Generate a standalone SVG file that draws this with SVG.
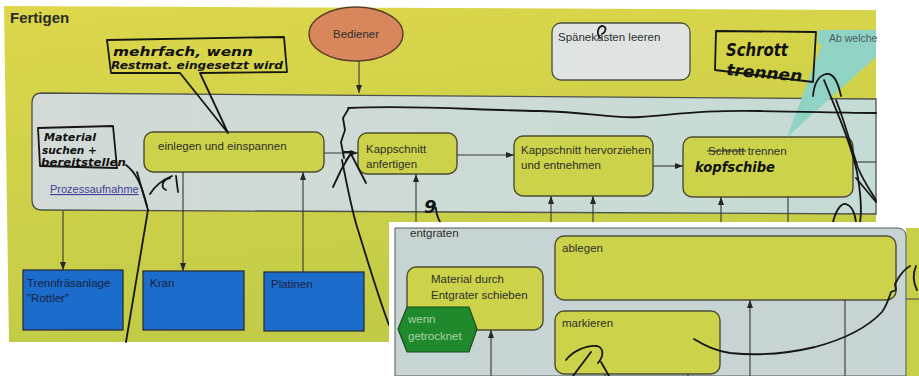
<svg xmlns="http://www.w3.org/2000/svg" width="919" height="376" viewBox="0 0 919 376">
<defs>
<linearGradient id="bgY" x1="0" y1="0" x2="0.25" y2="1">
<stop offset="0" stop-color="#ddd74b"/>
<stop offset="1" stop-color="#c1cb47"/>
</linearGradient>
<linearGradient id="laneG" x1="0" y1="0" x2="1" y2="0">
<stop offset="0" stop-color="#d3dad7"/>
<stop offset="1" stop-color="#c5dbd5"/>
</linearGradient>
<marker id="ah" viewBox="0 0 8 6" refX="8" refY="3" markerWidth="8" markerHeight="6" orient="auto" markerUnits="userSpaceOnUse">
<path d="M0,0 L8,3 L0,6 z" fill="#262624"/>
</marker>
<style>
.t{font-family:"Liberation Sans",Arial,sans-serif;font-size:11.5px;fill:#2f2f2a}
.tb{font-family:"Liberation Sans",Arial,sans-serif;font-size:11.5px;fill:#16233d}
.box{fill:#ccd249;stroke:#4d4c32;stroke-width:1.4}
.blue{fill:#1b6ccb;stroke:#2a2f3a;stroke-width:1.3}
.ln{stroke:#363632;stroke-width:1.1;fill:none}
.hw{fill:none;stroke:#161616;stroke-width:1.8;stroke-linecap:round;stroke-linejoin:round}
.hwt{font-family:"DejaVu Sans",sans-serif;font-style:italic;font-weight:600;fill:#111}
</style>
</defs>

<rect x="0" y="0" width="919" height="376" fill="#ffffff"/>

<g id="page">
<polygon points="4,6 876,10 876,342 9,342" fill="url(#bgY)"/>
<text x="10" y="23" font-family="Liberation Sans, Arial, sans-serif" font-size="15" font-weight="bold" fill="#2a2a26">Fertigen</text>
</g>

<g id="lane">
<path d="M42,93 L876,99 L876,214 L42,210 Q32,210 32,200 L32,103 Q32,93 42,93 Z" fill="url(#laneG)" stroke="#4e5248" stroke-width="1.3"/>
<text x="50" y="193" font-family="Liberation Sans, Arial, sans-serif" font-size="11" fill="#3b3f96" text-decoration="underline">Prozessaufnahme</text>
</g>

<g id="bediener">
<ellipse cx="356" cy="34" rx="47" ry="27" fill="#d8875c" stroke="#5b3b2a" stroke-width="1.3"/>
<text x="356" y="38" class="t" text-anchor="middle" font-size="11">Bediener</text>
</g>

<g id="spaenekasten">
<rect x="552" y="23" width="138" height="57" rx="9" fill="#dfe4e2" stroke="#4e4e40" stroke-width="1.3"/>
<text x="558" y="41" class="t" font-size="11">Spänekasten leeren</text>
</g>

<g id="einlegen">
<rect x="144" y="132" width="180" height="40" rx="9" class="box"/>
<text x="158" y="150" class="t">einlegen und einspannen</text>
</g>

<g id="kappschnitt">
<rect x="358" y="133" width="99" height="41" rx="9" class="box"/>
<text x="366" y="153" class="t">Kappschnitt</text>
<text x="366" y="168" class="t">anfertigen</text>
</g>

<g id="hervorziehen">
<rect x="514" y="136" width="139" height="60" rx="9" class="box"/>
<text x="521" y="154" class="t">Kappschnitt hervorziehen</text>
<text x="521" y="169" class="t">und entnehmen</text>
</g>

<g id="schrott">
<rect x="683" y="137" width="170" height="60" rx="9" class="box"/>
<text x="708" y="155" class="t">Schrott trennen</text>
<line x1="707" y1="151" x2="746" y2="151" stroke="#2f2f2a" stroke-width="1.2"/>
</g>

<g id="trennfraesanlage">
<rect x="23" y="270" width="100" height="60" class="blue"/>
<text x="27" y="287" class="tb">Trennfräsanlage</text>
<text x="27" y="302" class="tb">"Rottler"</text>
</g>

<g id="kran">
<rect x="143" y="271" width="101" height="59" class="blue"/>
<text x="150" y="287" class="tb">Kran</text>
</g>

<g id="platinen">
<rect x="264" y="272" width="100" height="59" class="blue"/>
<text x="271" y="288" class="tb">Platinen</text>
</g>

<g id="callout">
<polygon points="818,30 876,30 876,57 787,137 822,44 818,44" fill="#90d2c3"/>
<text x="829" y="42" font-family="Liberation Sans, Arial, sans-serif" font-size="10.5" fill="#4a5a66">Ab welche</text>
</g>

<g id="connectors">
<line x1="359" y1="61" x2="359" y2="93" class="ln" marker-end="url(#ah)"/>
<line x1="324" y1="153" x2="358" y2="153" class="ln" marker-end="url(#ah)"/>
<line x1="457" y1="155" x2="514" y2="155" class="ln" marker-end="url(#ah)"/>
<line x1="653" y1="166" x2="683" y2="166" class="ln" marker-end="url(#ah)"/>
<line x1="853" y1="162" x2="876" y2="162" class="ln"/>
<line x1="63" y1="211" x2="63" y2="270" class="ln" marker-end="url(#ah)"/>
<line x1="183" y1="172" x2="183" y2="271" class="ln" marker-end="url(#ah)"/>
<line x1="303" y1="272" x2="303" y2="172" class="ln" marker-end="url(#ah)"/>
<line x1="416" y1="222" x2="416" y2="174" class="ln" marker-end="url(#ah)"/>
<line x1="551" y1="222" x2="551" y2="196" class="ln" marker-end="url(#ah)"/>
<line x1="593" y1="222" x2="593" y2="196" class="ln" marker-end="url(#ah)"/>
<line x1="721" y1="222" x2="721" y2="197" class="ln" marker-end="url(#ah)"/>
<line x1="788" y1="197" x2="788" y2="222" class="ln"/>
</g>

<g id="handwriting">
<path class="hw" d="M180,73 L111,73 L107,40 L284,37 L287,72 L200,73 L228,133 Z" fill="none"/>
<text class="hwt" x="113" y="56" font-size="12" textLength="140" lengthAdjust="spacingAndGlyphs">mehrfach, wenn</text>
<text class="hwt" x="111" y="69" font-size="11" textLength="172" lengthAdjust="spacingAndGlyphs">Restmat. eingesetzt wird</text>

<path class="hw" d="M38,128 L113,126 L117,168 L40,166 Z"/>
<text class="hwt" x="44" y="141" font-size="11" textLength="52" lengthAdjust="spacingAndGlyphs">Material</text>
<text class="hwt" x="42" y="154" font-size="11" textLength="55" lengthAdjust="spacingAndGlyphs">suchen +</text>
<text class="hwt" x="41" y="166" font-size="11" textLength="85" lengthAdjust="spacingAndGlyphs">bereitstellen</text>

<path class="hw" d="M716,31 L816,32 L813,82 L715,70 Z"/>
<text class="hwt" x="726" y="56" font-size="17" textLength="62" lengthAdjust="spacingAndGlyphs">Schrott</text>
<text class="hwt" x="726" y="75" font-size="16" textLength="76" lengthAdjust="spacingAndGlyphs" transform="rotate(5 726 75)">trennen</text>

<text class="hwt" x="695" y="172" font-size="14" textLength="80" lengthAdjust="spacingAndGlyphs">kopfschibe</text>
<path class="hw" stroke-width="1.4" d="M600,38 C596,33 598,26 603,26 C607,27 606,32 602,34"/>

<path class="hw" stroke-width="1.6" d="M348,108 C420,105 470,110 540,111 C590,112 612,119 640,117 C680,114 705,110 760,111 C820,112 850,113 876,113"/>
<path class="hw" d="M349,108 L343,118 L345,130 L341,142 L344,158"/>
<path class="hw" d="M333,187 L341,170 L351,153"/>
<path class="hw" d="M343,152 L353,152 L346,160"/>
<path class="hw" stroke-width="1.4" d="M351,154 L366,183"/>
<path class="hw" d="M342,160 C348,190 352,212 358,230 C368,262 378,296 389,325"/>

<path class="hw" d="M126,165 C135,172 141,182 147,206"/>
<path class="hw" d="M137,172 C141,186 144,197 148,210"/>
<path class="hw" stroke-width="1.6" d="M148,210 C140,260 132,305 126,342"/>
<path class="hw" d="M150,194 C155,186 162,180 172,176"/>
<path class="hw" d="M166,190 C161,188 161,180 170,178"/>
<path class="hw" d="M176,176 L178,192"/>

<text class="hwt" x="424" y="213" font-size="18">9</text>
<path class="hw" d="M436,208 C436,214 438,218 440,222"/>

<path class="hw" d="M813,96 C814,85 818,76 826,74 C834,73 838,82 841,96"/>
<path class="hw" stroke-width="1.4" d="M824,80 C836,110 850,140 857,172 C861,195 862,210 860,222"/>
<path class="hw" stroke-width="1.4" d="M836,100 C846,125 852,150 858,168 C864,182 870,190 876,200"/>
<path class="hw" stroke-width="1.2" d="M856,178 L876,202"/>
<path class="hw" stroke-width="1.4" d="M833,222 C836,210 841,203 846,204 C852,206 855,214 856,222"/>
</g>

<g id="inset">
<rect x="389" y="222" width="530" height="154" fill="#ffffff"/>
<rect x="906" y="228" width="13" height="148" fill="#c6cf48"/>
<line x1="906" y1="299" x2="919" y2="299" stroke="#444" stroke-width="1"/>
<path d="M395,228 L897,228 Q906,228 906,237 L906,376 L395,376 Z" fill="#c6d4d4" stroke="#55595a" stroke-width="1"/>
<text x="410" y="237" class="t" font-size="11">entgraten</text>
</g>

<g id="material">
<rect x="407" y="267" width="136" height="63" rx="9" class="box"/>
<text x="431" y="283" class="t">Material durch</text>
<text x="431" y="299" class="t">Entgrater schieben</text>
</g>

<g id="getrocknet">
<polygon points="398,329 407,307 469,307 477,329 469,352 407,352" fill="#1f8a2c" stroke="#1a4a1e" stroke-width="1.2"/>
<text x="408" y="323" class="t" font-size="11" style="fill:#a8d2a6">wenn</text>
<text x="408" y="340" class="t" font-size="11" style="fill:#a8d2a6">getrocknet</text>
</g>

<g id="ablegen">
<rect x="555" y="236" width="341" height="64" rx="9" class="box"/>
<text x="562" y="252" class="t">ablegen</text>
</g>

<g id="markieren">
<rect x="555" y="311" width="165" height="63" rx="9" class="box"/>
<text x="562" y="327" class="t">markieren</text>
</g>

<g id="inset-connectors">
<line x1="491" y1="376" x2="491" y2="330" class="ln" marker-end="url(#ah)"/>
<line x1="750" y1="376" x2="750" y2="300" class="ln" marker-end="url(#ah)"/>
<line x1="845" y1="300" x2="845" y2="376" class="ln"/>
<line x1="605" y1="376" x2="605" y2="374" class="ln"/>
<line x1="688" y1="374" x2="688" y2="376" class="ln"/>
</g>

<g id="inset-handwriting">
<path class="hw" d="M694,339 C705,346 715,351 730,353 C760,356 790,353 815,347 C845,339 868,327 882,312 C887,305 889,298 891,292 L896,290 L895,284 C899,276 903,270 910,266"/>
<path class="hw" stroke-width="1.4" d="M916,266 C913,273 913,282 917,290"/>
<path class="hw" d="M566,360 C572,352 585,345 597,346 C604,348 604,356 598,363"/>
<path class="hw" d="M591,352 L573,376"/>
<path class="hw" stroke-width="1.4" d="M601,362 L609,376"/>
</g>
</svg>
